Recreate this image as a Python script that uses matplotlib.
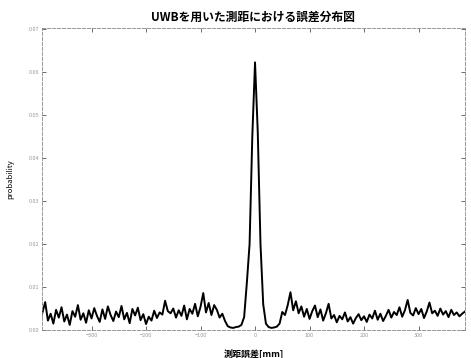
import numpy as np
import matplotlib
matplotlib.use("Agg")
from matplotlib import pyplot as plt

plt.rcParams['font.family'] = ['Noto Sans CJK JP', 'DejaVu Sans']

# bin centres of the error histogram [mm]
bin_start = -400
bin_step = 5
probability = [
    0.0032, 0.0018, 0.0041, 0.0065, 0.0022, 0.0038, 0.0015, 0.0047, 0.0029, 0.0053,
    0.0020, 0.0036, 0.0012, 0.0044, 0.0031, 0.0058, 0.0024, 0.0039, 0.0017, 0.0046,
    0.0027, 0.0051, 0.0033, 0.0019, 0.0048, 0.0026, 0.0055, 0.0035, 0.0021, 0.0043,
    0.0030, 0.0056, 0.0025, 0.0040, 0.0016, 0.0049, 0.0034, 0.0052, 0.0023, 0.0037,
    0.0014, 0.0031, 0.0022, 0.0045, 0.0028, 0.0041, 0.0036, 0.0068, 0.0044, 0.0039,
    0.0050, 0.0029, 0.0046, 0.0033, 0.0057, 0.0025, 0.0049, 0.0038, 0.0061, 0.0032,
    0.0054, 0.0086, 0.0041, 0.0063, 0.0035, 0.0058, 0.0047, 0.0029, 0.0038, 0.0021,
    0.0009, 0.0006, 0.0005, 0.0007, 0.0008, 0.0012, 0.0030, 0.0110, 0.0200, 0.0450,
    0.0622, 0.0460, 0.0200, 0.0060, 0.0015, 0.0007, 0.0005, 0.0006, 0.0008, 0.0015,
    0.0042, 0.0035, 0.0058, 0.0088, 0.0046, 0.0067, 0.0039, 0.0055, 0.0031, 0.0049,
    0.0026, 0.0044, 0.0057, 0.0030, 0.0048, 0.0022, 0.0039, 0.0061, 0.0027, 0.0035,
    0.0018, 0.0033, 0.0025, 0.0041, 0.0020, 0.0030, 0.0015, 0.0028, 0.0037, 0.0023,
    0.0032, 0.0019, 0.0036, 0.0027, 0.0045, 0.0024, 0.0038, 0.0021, 0.0033, 0.0047,
    0.0029, 0.0042, 0.0035, 0.0053, 0.0031, 0.0046, 0.0070, 0.0040, 0.0034, 0.0051,
    0.0037, 0.0049, 0.0028, 0.0043, 0.0064, 0.0039, 0.0045, 0.0033, 0.0050, 0.0036,
    0.0044, 0.0030, 0.0047, 0.0035, 0.0041, 0.0032, 0.0038, 0.0043,
]
error_mm = bin_start + bin_step * np.arange(len(probability))

x_ticks = [-300, -200, -100, 0, 100, 200, 300]
y_ticks = [0, 0.01, 0.02, 0.03, 0.04, 0.05, 0.06, 0.07]

fig = plt.figure(figsize=(4.71, 3.58), dpi=100)
ax = fig.add_axes([0.089, 0.078, 0.898, 0.844])

ax.plot(error_mm, probability, color="black", lw=1.4)

ax.set_xlim(-391, 385)
ax.set_ylim(0, 0.0702)
ax.set_xticks(x_ticks)
ax.set_yticks(y_ticks)
ax.tick_params(direction="in", length=3, width=0.6, labelsize=4, labelcolor="#999999",
               colors="#555555", top=True, right=True, pad=2)

for s in ax.spines.values():
    s.set_color("#888888")
    s.set_linewidth(0.6)
    s.set_linestyle((0, (4, 2)))

ax.set_title("UWBを用いた測距における誤差分布図", fontsize=8.5, fontweight="bold", pad=5)
ax.set_xlabel("測距誤差[mm]", fontsize=6.5, fontweight="bold", labelpad=8)
ax.set_ylabel("probability", fontsize=5.5, labelpad=10)

fig.savefig("out.png", dpi=100)
